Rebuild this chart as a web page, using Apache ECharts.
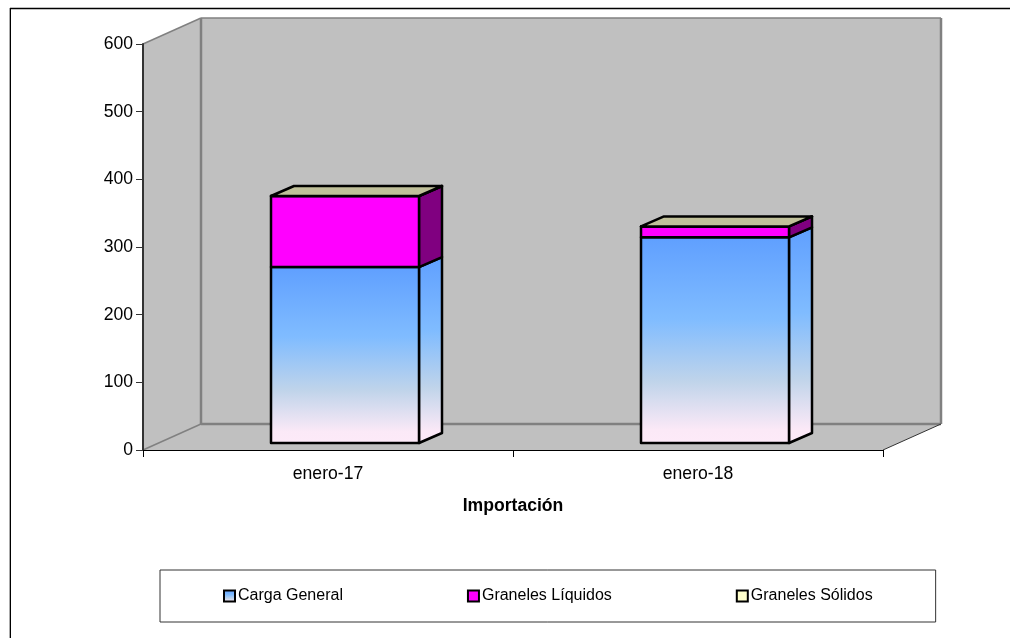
<!DOCTYPE html>
<html>
<head>
<meta charset="utf-8">
<style>
html, body { margin: 0; padding: 0; background: #fff; }
#chart { width: 1010px; height: 638px; }
</style>
<script src="https://cdn.jsdelivr.net/npm/echarts@6/dist/echarts.min.js"></script>
</head>
<body>
<div id="chart"></div>
<script>
const categories = ['enero-17', 'enero-18']
const cargaGeneral = [260, 304]
const granelesLiquidos = [105, 16]
const granelesSolidos = [0, 0]
const axisTicks = [0, 100, 200, 300, 400, 500, 600]

const fontName = '"Liberation Sans", Arial, sans-serif'

// profundidad del "3D" en pixeles
const depthX = 58
const depthY = -26
const barOffX = 17
const barOffY = -7
const barDepthX = 23
const barDepthY = -10

const blueFade = () => new echarts.graphic.LinearGradient(0, 0, 0, 1, [
    { offset: 0, color: '#5f9fff' },
    { offset: 0.4, color: '#80bcff' },
    { offset: 0.7, color: '#c0d4ea' },
    { offset: 0.93, color: '#fbe9f7' },
    { offset: 1, color: '#fdeaf8' }
])

const poly = (points, fill, stroke, lineWidth) => ({
    type: 'polygon',
    shape: { points },
    style: { fill, stroke, lineWidth, lineJoin: 'round' }
})

const drawWalls = (params, api) => {
    const grid = params.coordSys
    const x0 = grid.x
    const x1 = grid.x + grid.width
    const yBottom = api.coord([0, 0])[1]
    const yTop = api.coord([0, 600])[1]
    const gray = '#808080'
    const wall = '#c0c0c0'
    const line = (a, b, stroke, lineWidth) => ({
        type: 'line',
        shape: { x1: a[0], y1: a[1], x2: b[0], y2: b[1] },
        style: { stroke, lineWidth }
    })
    const backTL = [x0 + depthX, yTop + depthY]
    const backTR = [x1 + depthX, yTop + depthY]
    const backBL = [x0 + depthX, yBottom + depthY]
    const backBR = [x1 + depthX, yBottom + depthY]
    return {
        type: 'group',
        children: [
            poly([[x0, yBottom], [x0, yTop], backTL, backBL], wall, null, 0),
            poly([[x0, yBottom], backBL, backBR, [x1, yBottom]], wall, null, 0),
            poly([backBL, backTL, backTR, backBR], wall, null, 0),
            line(backTL, backTR, gray, 1.5),
            line(backTL, backBL, gray, 2.5),
            line(backTR, backBR, gray, 2.5),
            line(backBL, backBR, gray, 2.5),
            line([x0, yTop], backTL, gray, 1.5),
            line([x0, yBottom], backBL, gray, 1.5),
            line([x1, yBottom], backBR, '#333', 1)
        ]
    }
}

// cada tramo apilado: cara frontal, lateral y, si toca, tapa
const drawStack = (fill, sideFill, topFill) => (params, api) => {
    const catIdx = api.value(0)
    const low = api.value(1)
    const high = api.value(2)
    const center = api.coord([catIdx, 0])[0]
    const halfW = api.size([1, 0])[0] * 0.2
    const xl = center - halfW + barOffX
    const xr = center + halfW + barOffX
    const yl = api.coord([catIdx, low])[1] + barOffY
    const yh = api.coord([catIdx, high])[1] + barOffY
    const children = [
        poly([[xr, yl], [xr, yh], [xr + barDepthX, yh + barDepthY], [xr + barDepthX, yl + barDepthY]], sideFill, '#000', 2.5),
        poly([[xl, yl], [xl, yh], [xr, yh], [xr, yl]], fill, '#000', 2.5)
    ]
    if (topFill) {
        children.push(poly([[xl, yh], [xl + barDepthX, yh + barDepthY], [xr + barDepthX, yh + barDepthY], [xr, yh]], topFill, '#000', 2.5))
    }
    return { type: 'group', children }
}

const stackData = (lower, values) => categories.map((c, i) => [i, lower[i], lower[i] + values[i]])
const topOfLiquid = categories.map((c, i) => cargaGeneral[i] + granelesLiquidos[i])

const chart = echarts.init(document.getElementById('chart'))
chart.setOption({
    backgroundColor: '#fff',
    animation: false,
    textStyle: { fontFamily: fontName, color: '#000' },
    graphic: [
        { type: 'line', silent: true, shape: { x1: 9.5, y1: 8, x2: 9.5, y2: 638 }, style: { stroke: '#aaa', lineWidth: 1 } },
        { type: 'line', silent: true, shape: { x1: 10.5, y1: 8, x2: 10.5, y2: 638 }, style: { stroke: '#000', lineWidth: 1 } },
        { type: 'line', silent: true, shape: { x1: 10, y1: 8.5, x2: 1010, y2: 8.5 }, style: { stroke: '#000', lineWidth: 1.5 } }
    ],
    grid: { left: 143, top: 44, width: 740, height: 406 },
    xAxis: {
        type: 'category',
        data: categories,
        name: 'Importación',
        nameLocation: 'middle',
        nameGap: 47,
        nameTextStyle: { fontFamily: fontName, fontSize: 17.6, fontWeight: 'bold', color: '#000' },
        axisLine: { show: true, lineStyle: { color: '#000', width: 1 } },
        axisTick: { show: true, length: 7, lineStyle: { color: '#000' } },
        axisLabel: { fontFamily: fontName, fontSize: 17.6, color: '#000', margin: 15 },
        z: 5
    },
    yAxis: {
        type: 'value',
        min: axisTicks[0],
        max: axisTicks[axisTicks.length - 1],
        interval: 100,
        axisLine: { show: true, lineStyle: { color: '#333', width: 2 } },
        axisTick: { show: true, length: 7, lineStyle: { color: '#333' } },
        axisLabel: { fontFamily: fontName, fontSize: 17.6, color: '#000', margin: 10 },
        splitLine: { show: false },
        z: 5
    },
    legend: {
        left: 160,
        top: 570,
        orient: 'horizontal',
        padding: [18, 63, 18, 63],
        itemGap: 124,
        itemWidth: 11,
        itemHeight: 11,
        borderColor: '#333',
        borderWidth: 1,
        textStyle: { fontFamily: fontName, fontSize: 16, color: '#000', padding: [0, 0, 0, -2] },
        data: [
            { name: 'Carga General', icon: 'rect', itemStyle: { color: blueFade(), borderColor: '#000', borderWidth: 2 } },
            { name: 'Graneles Líquidos', icon: 'rect', itemStyle: { color: '#ff00ff', borderColor: '#000', borderWidth: 2 } },
            { name: 'Graneles Sólidos', icon: 'rect', itemStyle: { color: '#ffffcc', borderColor: '#000', borderWidth: 2 } }
        ]
    },
    series: [
        {
            type: 'custom',
            name: 'paredes',
            silent: true,
            renderItem: drawWalls,
            data: [[0]],
            z: 1
        },
        {
            type: 'custom',
            name: 'Carga General',
            renderItem: drawStack(blueFade(), blueFade(), null),
            encode: { x: 0, y: 2 },
            data: stackData([0, 0], cargaGeneral),
            itemStyle: { color: '#80bcff' },
            z: 2
        },
        {
            type: 'custom',
            name: 'Graneles Líquidos',
            renderItem: drawStack('#ff00ff', '#800080', null),
            encode: { x: 0, y: 2 },
            data: stackData(cargaGeneral, granelesLiquidos),
            itemStyle: { color: '#ff00ff' },
            z: 3
        },
        {
            type: 'custom',
            name: 'Graneles Sólidos',
            renderItem: drawStack('#ffffcc', '#808066', '#c0c09a'),
            encode: { x: 0, y: 2 },
            data: stackData(topOfLiquid, granelesSolidos),
            itemStyle: { color: '#ffffcc' },
            z: 4
        }
    ]
})
</script>
</body>
</html>
